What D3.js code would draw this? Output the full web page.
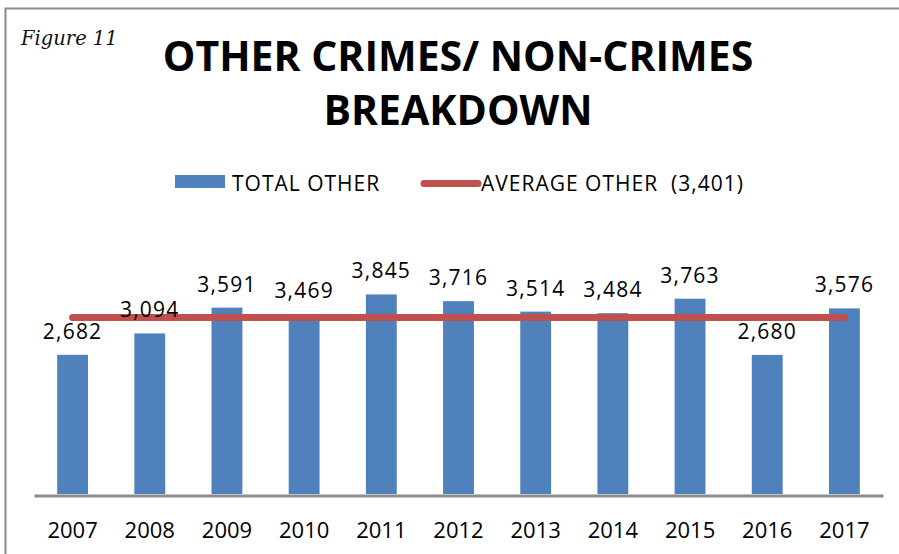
<!DOCTYPE html>
<html>
<head>
<meta charset="utf-8">
<script src="https://cdn.jsdelivr.net/npm/d3@7"></script>
<style>
  html, body { margin: 0; padding: 0; background: #ffffff; }
  svg { display: block; }
  .keep-space { white-space: pre; }
</style>
</head>
<body>
<svg id="chart" width="899" height="554"></svg>
<script>
// Yearly totals of other crimes / non-crimes
const years = ["2007", "2008", "2009", "2010", "2011", "2012", "2013", "2014", "2015", "2016", "2017"];
const totalOther = [2682, 3094, 3591, 3469, 3845, 3716, 3514, 3484, 3763, 2680, 3576];
const averageOther = 3401;
const seriesNames = ["TOTAL OTHER", "AVERAGE OTHER  (3,401)"];
const titleLines = ["OTHER CRIMES/ NON-CRIMES", "BREAKDOWN"];
const figureLabel = "Figure 11";

const BLUE = "#4f81bd";
const RED = "#c0504d";
const fmt = d3.format(",");

const svg = d3.select("#chart");

// outer frame (open on the right and bottom edges)
svg.append("rect")
  .attr("x", 5.5).attr("y", 8.5)
  .attr("width", 920).attr("height", 580)
  .attr("fill", "none")
  .attr("stroke", "#8a8a8a")
  .attr("stroke-width", 2);

svg.append("text")
  .attr("x", 21).attr("y", 45)
  .attr("font-family", "'DejaVu Serif', serif")
  .attr("font-style", "italic")
  .attr("font-size", 19.5)
  .attr("fill", "#111")
  .text(figureLabel);

// title
const title = svg.append("g")
  .attr("font-family", "'Open Sans', sans-serif")
  .attr("font-weight", 700)
  .attr("font-size", 41)
  .attr("fill", "#000")
  .attr("text-anchor", "middle");
titleLines.forEach((t, i) => {
  title.append("text").attr("x", 458).attr("y", 71 + i * 54).text(t);
});

// scales
const x = d3.scaleBand()
  .domain(years)
  .range([34, 883])
  .paddingInner(0.6)
  .paddingOuter(0.3);

const y = d3.scaleLinear()
  .domain([0, 5000])
  .range([494, 234.5]);

// bars
svg.append("g").selectAll("rect")
  .data(years)
  .join("rect")
  .attr("x", d => x(d))
  .attr("y", (d, i) => y(totalOther[i]))
  .attr("width", x.bandwidth())
  .attr("height", (d, i) => y(0) - y(totalOther[i]))
  .attr("fill", BLUE);

// category axis
const xAxis = svg.append("g")
  .attr("transform", `translate(0,${y(0) + 1.5})`)
  .call(d3.axisBottom(x).tickSize(0).tickPadding(0));
xAxis.select(".domain")
  .attr("stroke", "#8c8c8c")
  .attr("stroke-width", 3);
xAxis.selectAll(".tick text")
  .attr("y", 42)
  .attr("dy", 0)
  .attr("font-family", "'Open Sans', sans-serif")
  .attr("font-size", 22)
  .attr("fill", "#000");

// average line
const avgLine = d3.line()
  .x(d => x(d) + x.bandwidth() / 2)
  .y(() => y(averageOther));
svg.append("path")
  .datum([years[0], years[years.length - 1]])
  .attr("d", avgLine)
  .attr("fill", "none")
  .attr("stroke", RED)
  .attr("stroke-width", 7)
  .attr("stroke-linecap", "round");

// value labels
svg.append("g").selectAll("text")
  .data(years)
  .join("text")
  .attr("x", d => x(d) + x.bandwidth() / 2)
  .attr("y", (d, i) => y(totalOther[i]) - 16)
  .attr("text-anchor", "middle")
  .attr("font-family", "'Open Sans', sans-serif")
  .attr("font-size", 21)
  .attr("letter-spacing", 1.2)
  .attr("fill", "#000")
  .text((d, i) => fmt(totalOther[i]));

// legend
const legend = svg.append("g")
  .attr("font-family", "'Open Sans', sans-serif")
  .attr("font-size", 21)
  .attr("letter-spacing", 1)
  .attr("fill", "#000");
legend.append("rect")
  .attr("x", 175).attr("y", 175)
  .attr("width", 50).attr("height", 13)
  .attr("fill", BLUE);
legend.append("text")
  .attr("x", 232).attr("y", 191)
  .text(seriesNames[0]);
legend.append("line")
  .attr("x1", 424).attr("x2", 478)
  .attr("y1", 183.5).attr("y2", 183.5)
  .attr("stroke", RED)
  .attr("stroke-width", 7)
  .attr("stroke-linecap", "round");
legend.append("text")
  .attr("class", "keep-space")
  .attr("x", 481).attr("y", 191)
  .text(seriesNames[1]);
</script>
</body>
</html>
